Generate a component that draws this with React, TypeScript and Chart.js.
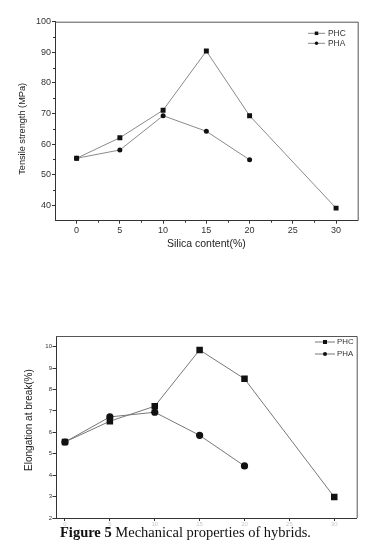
import React, { useEffect, useRef } from 'react';
import { Chart, registerables } from 'chart.js';

Chart.register(...registerables);

// ---- data ----
const seriesNames = ['PHC', 'PHA'];
const silicaPHC = [0, 5, 10, 15, 20, 30];
const silicaPHA = [0, 5, 10, 15, 20];
const tensilePHC = [55.4, 62.1, 71.1, 90.4, 69.3, 39.1];
const tensilePHA = [55.4, 58.1, 69.3, 64.2, 54.9];
const elongPHC = [5.55, 6.52, 7.22, 9.85, 8.5, 2.98];
const elongPHA = [5.55, 6.72, 6.94, 5.86, 4.43];
const xTicks = [0, 5, 10, 15, 20, 25, 30];
const xMinorTicks = [2.5, 7.5, 12.5, 17.5, 22.5, 27.5];
const tensileTicks = [40, 50, 60, 70, 80, 90, 100];
const tensileMinorTicks = [45, 55, 65, 75, 85, 95];
const elongTicks = [2, 3, 4, 5, 6, 7, 8, 9, 10];
const captionBold = 'Figure 5';
const captionText = ' Mechanical properties of hybrids.';
const NB = '\u00a0';

const SANS = "'Liberation Sans', Arial, sans-serif";

type LegendCfg = {
  dxLine0: number; dxLine1: number; dxText: number; dy0: number; dy1: number;
  font: string; sq: number; circ: number; color: string;
};

function framePlugin(color: string) {
  return {
    id: 'frame',
    afterDraw(chart: any) {
      const { ctx, chartArea: a } = chart;
      ctx.save();
      ctx.strokeStyle = color;
      ctx.lineWidth = 1;
      ctx.beginPath();
      ctx.moveTo(a.left, a.top + 0.5);
      ctx.lineTo(a.right + 0.5, a.top + 0.5);
      ctx.lineTo(a.right + 0.5, a.bottom);
      ctx.stroke();
      ctx.restore();
    },
  };
}

function minorPlugin(xs: number[], ys: number[], len: number) {
  return {
    id: 'minor',
    afterDraw(chart: any) {
      const { ctx, chartArea: a, scales } = chart;
      ctx.save();
      ctx.strokeStyle = '#333';
      ctx.lineWidth = 1;
      ctx.beginPath();
      xs.forEach((v) => {
        const px = Math.round(scales.x.getPixelForValue(v)) + 0.5;
        ctx.moveTo(px, a.bottom);
        ctx.lineTo(px, a.bottom + len);
      });
      ys.forEach((v) => {
        const py = Math.round(scales.y.getPixelForValue(v)) + 0.5;
        ctx.moveTo(a.left, py);
        ctx.lineTo(a.left - len, py);
      });
      ctx.stroke();
      ctx.restore();
    },
  };
}

function legendPlugin(cfg: LegendCfg) {
  return {
    id: 'insideLegend',
    afterDraw(chart: any) {
      const { ctx, chartArea: a } = chart;
      ctx.save();
      chart.data.datasets.forEach((ds: any, i: number) => {
        const y = a.top + (i === 0 ? cfg.dy0 : cfg.dy1);
        const x0 = a.right - cfg.dxLine0;
        const x1 = a.right - cfg.dxLine1;
        ctx.strokeStyle = ds.borderColor;
        ctx.lineWidth = 1;
        ctx.beginPath();
        ctx.moveTo(x0, y);
        ctx.lineTo(x1, y);
        ctx.stroke();
        const cx = (x0 + x1) / 2;
        ctx.fillStyle = '#111';
        if (ds.pointStyle === 'rect') {
          ctx.fillRect(cx - cfg.sq / 2, y - cfg.sq / 2, cfg.sq, cfg.sq);
        } else {
          ctx.beginPath();
          ctx.arc(cx, y, cfg.circ / 2, 0, Math.PI * 2);
          ctx.fill();
        }
        ctx.fillStyle = cfg.color;
        ctx.font = cfg.font;
        ctx.textBaseline = 'middle';
        ctx.textAlign = 'left';
        ctx.fillText(ds.label, a.right - cfg.dxText, y);
      });
      ctx.restore();
    },
  };
}

function TopChart() {
  const ref = useRef<HTMLCanvasElement | null>(null);
  useEffect(() => {
    if (!ref.current) return;
    const chart = new Chart(ref.current, {
      type: 'line',
      data: {
        datasets: [
          {
            label: seriesNames[0],
            data: silicaPHC.map((x, i) => ({ x, y: tensilePHC[i] })),
            borderColor: '#8a8a8a',
            borderWidth: 1,
            pointStyle: 'rect',
            pointRadius: 3.5,
            pointBackgroundColor: '#111',
            pointBorderWidth: 0,
            tension: 0,
          },
          {
            label: seriesNames[1],
            data: silicaPHA.map((x, i) => ({ x, y: tensilePHA[i] })),
            borderColor: '#8a8a8a',
            borderWidth: 1,
            pointStyle: 'circle',
            pointRadius: 2.5,
            pointBackgroundColor: '#111',
            pointBorderWidth: 0,
            tension: 0,
          },
        ],
      },
      options: {
        animation: false,
        responsive: false,
        layout: { padding: { left: 0, top: 21.7, right: 18.3, bottom: 0 } },
        plugins: { legend: { display: false }, tooltip: { enabled: false } },
        scales: {
          x: {
            type: 'linear',
            min: -2.5,
            max: 32.5,
            afterBuildTicks: (s: any) => { s.ticks = xTicks.map((v) => ({ value: v })); },
            afterFit: (s: any) => { s.height = 31.3; },
            grid: { drawOnChartArea: false, tickLength: 3, tickColor: '#333' },
            border: { color: '#333', width: 1 },
            ticks: { padding: 1, autoSkip: false, maxRotation: 0, color: '#333', font: { family: SANS, size: 9 } },
            title: { display: true, text: 'Silica content(%)', color: '#222', font: { family: SANS, size: 10.5 }, padding: { top: 0, bottom: 1.2 } },
          },
          y: {
            type: 'linear',
            min: 35,
            max: 100,
            afterBuildTicks: (s: any) => { s.ticks = tensileTicks.map((v) => ({ value: v })); },
            afterFit: (s: any) => { s.width = 55; },
            grid: { drawOnChartArea: false, tickLength: 3, tickColor: '#333' },
            border: { color: '#333', width: 1 },
            ticks: { padding: 1, autoSkip: false, color: '#333', font: { family: SANS, size: 9 } },
            title: { display: true, text: 'Tensile strength (MPa)' + NB.repeat(6), color: '#222', font: { family: SANS, size: 9.2 }, padding: { top: 17.3, bottom: 0 } },
          },
        },
      },
      plugins: [
        framePlugin('#555'),
        minorPlugin(xMinorTicks, tensileMinorTicks, 2),
        legendPlugin({ dxLine0: 49.7, dxLine1: 32.7, dxText: 29.7, dy0: 11.6, dy1: 21.6, font: `8.4px ${SANS}`, sq: 3.5, circ: 3.5, color: '#333' }),
      ],
    } as any);
    return () => chart.destroy();
  }, []);
  return (
    <canvas ref={ref} width={376} height={252} style={{ position: 'absolute', left: 0, top: 0, width: 376, height: 252 }} />
  );
}

function BottomChart() {
  const ref = useRef<HTMLCanvasElement | null>(null);
  useEffect(() => {
    if (!ref.current) return;
    const chart = new Chart(ref.current, {
      type: 'line',
      data: {
        datasets: [
          {
            label: seriesNames[0],
            data: silicaPHC.map((x, i) => ({ x, y: elongPHC[i] })),
            borderColor: '#777',
            borderWidth: 1,
            pointStyle: 'rect',
            pointRadius: 4.6,
            pointBackgroundColor: '#111',
            pointBorderWidth: 0,
            tension: 0,
          },
          {
            label: seriesNames[1],
            data: silicaPHA.map((x, i) => ({ x, y: elongPHA[i] })),
            borderColor: '#777',
            borderWidth: 1,
            pointStyle: 'circle',
            pointRadius: 3.6,
            pointBackgroundColor: '#111',
            pointBorderWidth: 0,
            tension: 0,
          },
        ],
      },
      options: {
        animation: false,
        responsive: false,
        layout: { padding: { left: 0, top: 16, right: 19.3, bottom: 0 } },
        plugins: { legend: { display: false }, tooltip: { enabled: false } },
        scales: {
          x: {
            type: 'linear',
            min: -1,
            max: 32.5,
            afterBuildTicks: (s: any) => { s.ticks = xTicks.map((v) => ({ value: v })); },
            afterFit: (s: any) => { s.height = 14; },
            grid: { drawOnChartArea: false, tickLength: 3, tickColor: '#333' },
            border: { color: '#333', width: 1 },
            ticks: { padding: 0, autoSkip: false, maxRotation: 0, color: '#c8c8c8', font: { family: SANS, size: 6 } },
          },
          y: {
            type: 'linear',
            min: 2,
            max: 10.5,
            afterBuildTicks: (s: any) => { s.ticks = elongTicks.map((v) => ({ value: v })); },
            afterFit: (s: any) => { s.width = 56; },
            grid: { drawOnChartArea: false, tickLength: 3.5, tickColor: '#333' },
            border: { color: '#333', width: 1 },
            ticks: { padding: 0.5, autoSkip: false, color: '#333', font: { family: SANS, size: 6 } },
            title: { display: true, text: NB.repeat(5) + 'Elongation at break(%)', color: '#222', font: { family: SANS, size: 10 }, padding: { top: 23.3, bottom: 0 } },
          },
        },
      },
      plugins: [
        framePlugin('#555'),
        legendPlugin({ dxLine0: 41.7, dxLine1: 21.7, dxText: 19.7, dy0: 6, dy1: 18, font: `7.9px ${SANS}`, sq: 4, circ: 4, color: '#333' }),
      ],
    } as any);
    return () => chart.destroy();
  }, []);
  return (
    <canvas ref={ref} width={376} height={212} style={{ position: 'absolute', left: 0, top: 320, width: 376, height: 212 }} />
  );
}

export default function App() {
  return (
    <div style={{ position: 'absolute', left: 0, top: 0, width: 376, height: 549, background: '#fff', overflow: 'hidden' }}>
      <TopChart />
      <BottomChart />
      <div
        style={{
          position: 'absolute',
          left: 60,
          top: 523.5,
          fontFamily: "'Liberation Serif', 'Times New Roman', serif",
          fontSize: 14.5,
          whiteSpace: 'nowrap',
          color: '#111',
        }}
      >
        <b>{captionBold}</b>
        {captionText}
      </div>
    </div>
  );
}
